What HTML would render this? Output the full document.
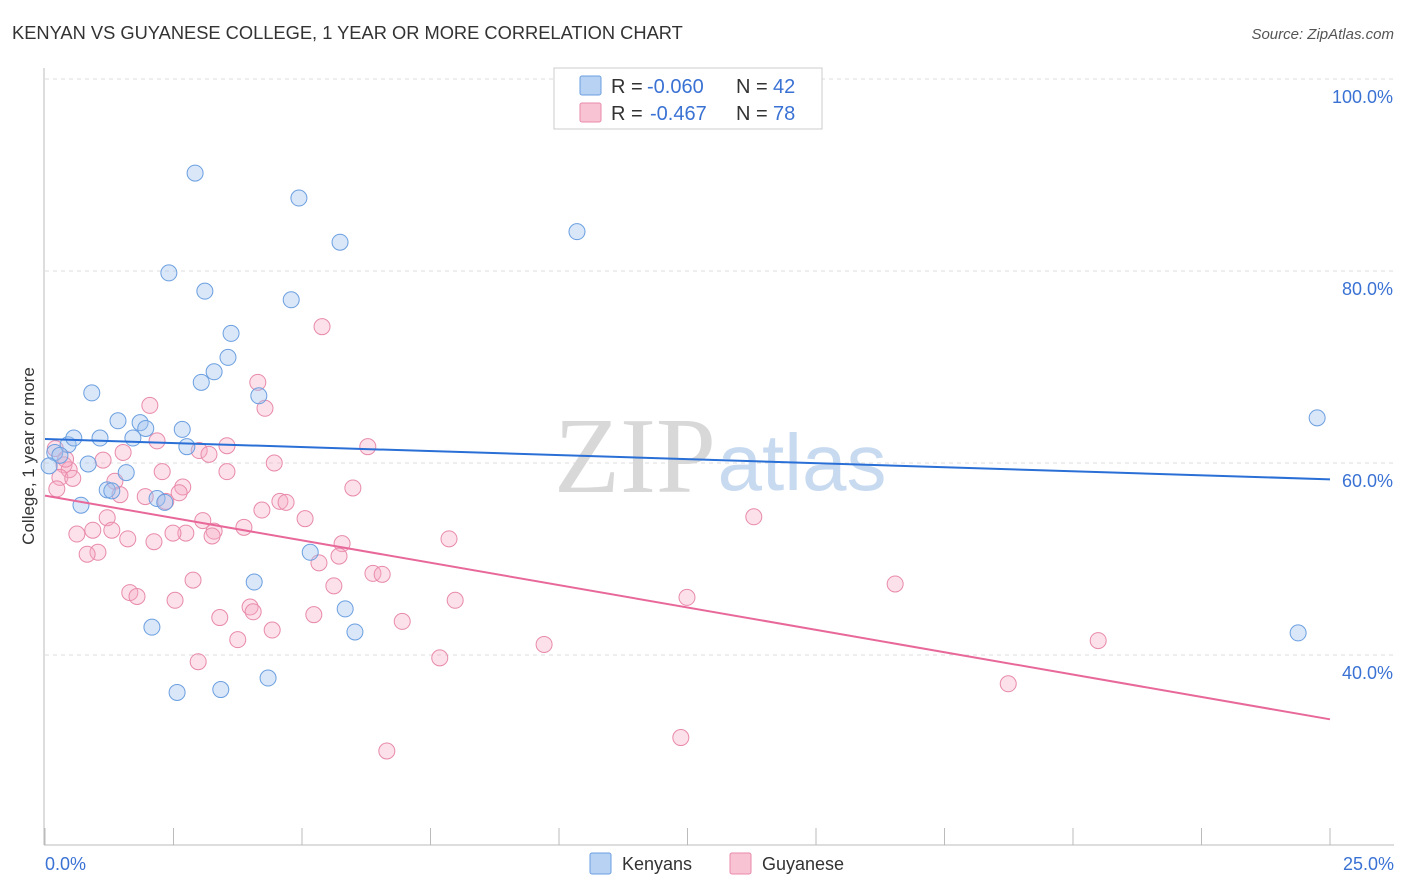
<!DOCTYPE html>
<html><head><meta charset="utf-8"><style>
body{margin:0;background:#fff;font-family:"Liberation Sans",sans-serif;}
svg{display:block}
</style></head><body>
<svg id="chart" width="1406" height="892">
<text x="12" y="39" font-size="18.3" fill="#333">KENYAN VS GUYANESE COLLEGE, 1 YEAR OR MORE CORRELATION CHART</text>
<text x="1394" y="39" font-size="15" fill="#555" font-style="italic" text-anchor="end">Source: ZipAtlas.com</text>
<g id="grid"></g>
<g>
<text x="635" y="492" font-size="108" fill="#d8d8d8" font-family="Liberation Serif,serif" text-anchor="middle">ZIP</text>
<text x="802" y="490" font-size="80" fill="#c8daf0" text-anchor="middle">atlas</text>
</g>
<line x1="44" y1="68" x2="44" y2="845" stroke="#bbb"/>
<line x1="44" y1="845" x2="1394" y2="845" stroke="#bbb"/>
<g id="ticks"></g>
<g id="ylabels"></g>
<text transform="translate(34,456) rotate(-90)" font-size="17" fill="#333" text-anchor="middle">College, 1 year or more</text>
<text x="45" y="870" font-size="18" fill="#3a72d4">0.0%</text>
<text x="1394" y="870" font-size="18" fill="#3a72d4" text-anchor="end">25.0%</text>
<g id="pinkpts"></g>
<g id="bluepts"></g>
<g id="trends"></g>
<g font-size="20">
<rect x="554" y="68" width="268" height="61" fill="#fff" stroke="#ccc"/>
<rect x="580" y="76" width="21" height="19" fill="#b8d2f4" stroke="#6b9fe0" rx="2"/>
<rect x="580" y="103" width="21" height="19" fill="#f8c4d4" stroke="#e88aaa" rx="2"/>
<text x="611" y="93" fill="#333">R =</text>
<text x="647" y="93" fill="#3a72d4">-0.060</text>
<text x="736" y="93" fill="#333">N =</text>
<text x="773" y="93" fill="#3a72d4">42</text>
<text x="611" y="120" fill="#333">R =</text>
<text x="650" y="120" fill="#3a72d4">-0.467</text>
<text x="736" y="120" fill="#333">N =</text>
<text x="773" y="120" fill="#3a72d4">78</text>
</g>
<g>
<rect x="590" y="853" width="21" height="21" fill="#b8d2f4" stroke="#6b9fe0" rx="2"/>
<text x="622" y="870" font-size="18" fill="#333">Kenyans</text>
<rect x="730" y="853" width="21" height="21" fill="#f8c4d4" stroke="#e88aaa" rx="2"/>
<text x="762" y="870" font-size="18" fill="#333">Guyanese</text>
</g>
</svg>
<script>
const yTicks=[40,60,80,100];
const yTickLabels=["40.0%","60.0%","80.0%","100.0%"];
const xTicks=[0,2.5,5,7.5,10,12.5,15,17.5,20,22.5,25];
const blueX=[2.92,4.94,5.74,10.35,2.41,3.11,4.79,3.62,3.56,3.29,3.04,0.91,4.16,1.42,1.85,1.96,2.67,1.07,1.71,0.45,0.56,2.76,0.19,0.29,0.84,0.08,1.58,1.21,1.30,2.18,2.33,0.70,5.16,4.07,5.84,2.08,6.03,2.57,3.42,4.34,24.38,24.75];
const blueY=[90.2,87.6,83.0,84.1,79.8,77.9,77.0,73.5,71.0,69.5,68.4,67.3,67.0,64.4,64.2,63.6,63.5,62.6,62.6,61.9,62.6,61.7,61.1,60.8,59.9,59.7,59.0,57.2,57.1,56.3,55.9,55.6,50.7,47.6,44.8,42.9,42.4,36.1,36.4,37.6,42.3,64.7];
const pinkX=[5.39,4.14,4.28,2.04,2.18,6.28,3.54,3.00,3.19,1.13,1.52,4.46,0.37,0.47,2.28,3.54,0.29,0.54,1.36,2.68,5.99,0.23,1.46,2.61,4.57,4.69,1.95,2.35,4.22,5.06,1.21,3.07,13.79,3.87,0.93,0.62,1.30,3.29,2.74,1.61,2.12,2.49,3.25,7.86,5.78,1.03,0.82,5.72,5.33,6.38,6.56,2.88,5.62,16.54,1.65,1.79,12.49,7.98,2.53,3.99,4.05,5.23,6.95,3.40,4.42,3.75,9.71,20.49,7.68,2.98,18.74,12.37,6.65,0.2,0.4];
const pinkY=[74.2,68.4,65.7,66.0,62.3,61.7,61.8,61.3,60.9,60.3,61.1,60.0,59.8,59.3,59.1,59.1,58.5,58.4,58.1,57.5,57.4,57.3,56.7,56.9,56.0,55.9,56.5,56.0,55.1,54.2,54.3,54.0,54.4,53.3,53.0,52.6,53.0,52.9,52.7,52.1,51.8,52.7,52.4,52.1,51.6,50.7,50.5,50.3,49.6,48.5,48.4,47.8,47.2,47.4,46.5,46.1,46.0,45.7,45.7,45.0,44.5,44.2,43.5,43.9,42.6,41.6,41.1,41.5,39.7,39.3,37.0,31.4,30.0,61.5,60.4];
const blueTrend=[62.5,58.3];
const pinkTrend=[56.6,33.3];
const xs=v=>45+v/25*1285;
const ys=v=>79+(100-v)*9.6;
const NS="http://www.w3.org/2000/svg";
function mk(tag,attrs,parent){const e=document.createElementNS(NS,tag);for(const k in attrs)e.setAttribute(k,attrs[k]);document.getElementById(parent).appendChild(e);return e;}
yTicks.forEach((t,i)=>{
 const l=mk('line',{x1:45,x2:1394,y1:ys(t),y2:ys(t),stroke:'#ddd','stroke-dasharray':'4,4'},'grid');
 
 
 const tx=mk('text',{x:1393,y:ys(t)+24,'font-size':18,fill:'#3a72d4','text-anchor':'end'},'ylabels');
 tx.textContent=yTickLabels[i];
 
 
});
xTicks.forEach(t=>{
 const l=mk('line',{x1:xs(t),x2:xs(t),y1:828,y2:845,stroke:'#bbb'},'ticks');
 
 
});
pinkX.forEach((x,i)=>{
 const c=mk('circle',{cx:xs(x),cy:ys(pinkY[i]),r:8,fill:'rgba(245,170,196,0.35)',stroke:'#e88aaa','stroke-width':1},'pinkpts');
 
 
});
blueX.forEach((x,i)=>{
 const c=mk('circle',{cx:xs(x),cy:ys(blueY[i]),r:8,fill:'rgba(160,196,240,0.4)',stroke:'#6b9fe0','stroke-width':1},'bluepts');
 
 
});
const bl=mk('line',{x1:xs(0),y1:ys(blueTrend[0]),x2:xs(25),y2:ys(blueTrend[1]),stroke:'#2a6fd6','stroke-width':2},'trends');


const pl=mk('line',{x1:xs(0),y1:ys(pinkTrend[0]),x2:xs(25),y2:ys(pinkTrend[1]),stroke:'#e8689a','stroke-width':2},'trends');


</script>
</body></html>
